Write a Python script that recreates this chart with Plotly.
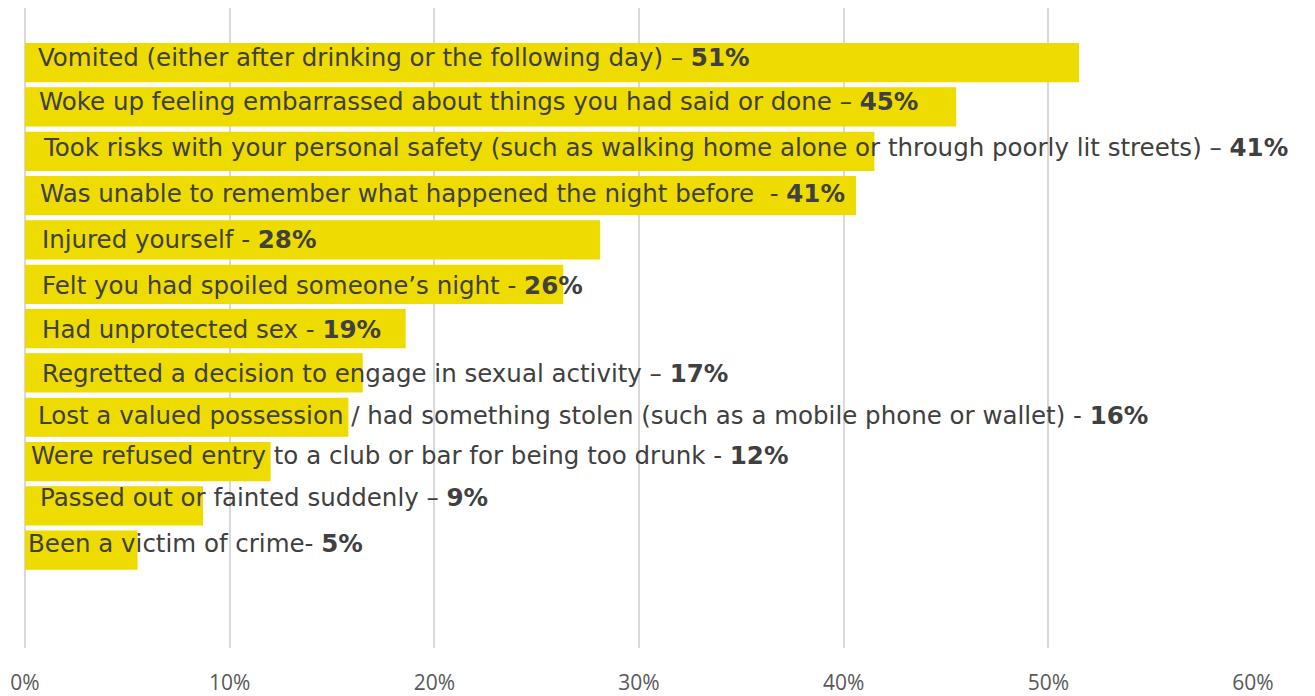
import plotly.graph_objects as go

categories = [
    "Vomited (either after drinking or the following day) – ",
    "Woke up feeling embarrassed about things you had said or done – ",
    "Took risks with your personal safety (such as walking home alone or through poorly lit streets) – ",
    "Was unable to remember what happened the night before  - ",
    "Injured yourself - ",
    "Felt you had spoiled someone’s night - ",
    "Had unprotected sex - ",
    "Regretted a decision to engage in sexual activity – ",
    "Lost a valued possession / had something stolen (such as a mobile phone or wallet) - ",
    "Were refused entry to a club or bar for being too drunk - ",
    "Passed out or fainted suddenly – ",
    "Been a victim of crime- ",
]
pct_labels = ["51%", "45%", "41%", "41%", "28%", "26%", "19%", "17%", "16%", "12%", "9%", "5%"]
values = [51.5, 45.5, 41.5, 40.6, 28.1, 26.3, 18.6, 16.5, 15.8, 12.0, 8.7, 5.5]
tick_vals = [0, 10, 20, 30, 40, 50, 60]
tick_text = ["0%", "10%", "20%", "30%", "40%", "50%", "60%"]

# label nudges (pixels) to mimic the original text placement
label_dx = [11, 12, 16, 13, 15, 15, 15, 15, 11, 4, 13, 1]
label_dy = [5, 5, 3.5, 2, 0, -1, -0.5, -1, 2, 6.4, 8.7, 6.5]

idx = list(range(len(categories)))

fig = go.Figure()
fig.add_trace(go.Bar(
    x=values, y=idx, orientation="h", width=0.885,
    marker=dict(color="#EEDB00", line=dict(width=0)),
    hoverinfo="skip",
))

for i, (c, p) in enumerate(zip(categories, pct_labels)):
    fig.add_annotation(
        x=0, y=i, xref="x", yref="y",
        text=c + "<b>" + p + "</b>",
        showarrow=False, xanchor="left", yanchor="middle",
        xshift=label_dx[i], yshift=label_dy[i],
        font=dict(family="DejaVu Sans", size=24.5, color="#404040"),
    )

fig.update_layout(
    width=1307, height=688,
    margin=dict(l=17, r=62, t=0, b=44),
    paper_bgcolor="white", plot_bgcolor="white",
    showlegend=False,
    xaxis=dict(
        range=[0, 60], tickvals=tick_vals, ticktext=tick_text,
        showgrid=True, gridcolor="#D9D9D9", gridwidth=1.5,
        zeroline=True, zerolinecolor="#D9D9D9", zerolinewidth=1.5,
        showline=False,
        ticks="outside", ticklen=16, tickcolor="rgba(0,0,0,0)",
        tickfont=dict(family="Open Sans", size=21, color="#595959"),
        fixedrange=True,
    ),
    yaxis=dict(
        range=[13.206, -1.233], showticklabels=False, showgrid=False,
        zeroline=False, showline=False, fixedrange=True,
    ),
)

fig.write_html("out.html")
